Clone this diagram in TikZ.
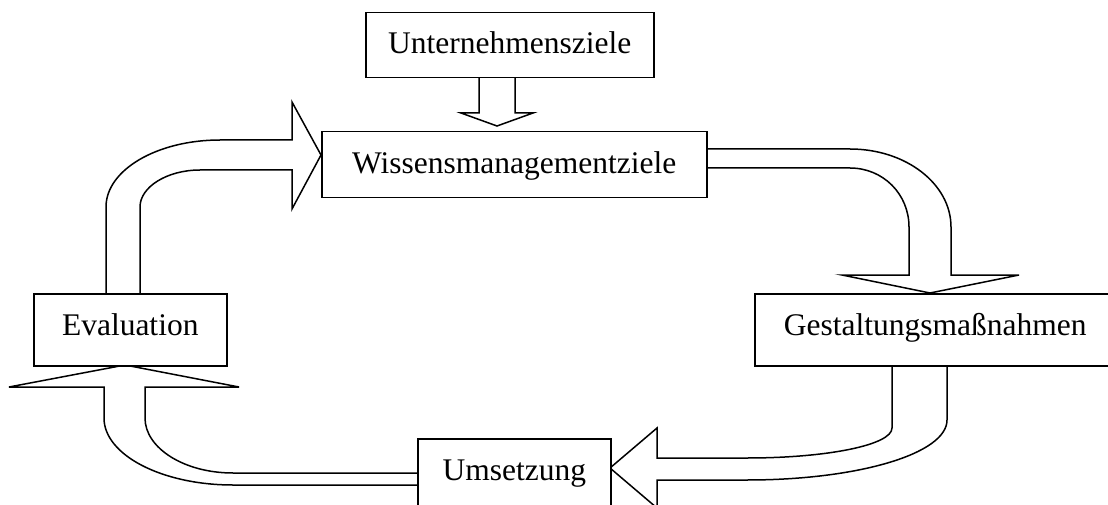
\documentclass[tikz,border=0pt]{standalone}
\usepackage{fontspec}
\setmainfont{Liberation Serif}
\pgfdeclarelayer{background}
\pgfsetlayers{background,main}
\begin{document}
\begin{tikzpicture}[x=1pt,y=-1pt,
  box/.style={draw,fill=white,rectangle,inner sep=0pt,anchor=north west,
    line width=1.5pt,font=\fontsize{31.5}{36}\selectfont},
  lowbox/.style={box,text height=22pt,text depth=5pt},
  highbox/.style={box,text height=20pt,text depth=8pt},
  blockarrow/.style={draw,fill=white,line width=1.5pt,line join=miter}]
\clip (0,0) rectangle (1108,505);
% boxes
\node[lowbox,minimum width=288pt,minimum height=65pt] (uz) at (365,12) {Unternehmensziele};
\node[lowbox,minimum width=385pt,minimum height=66pt] (wm) at (321,131) {Wissensmanagementziele};
\node[highbox,minimum width=193pt,minimum height=72pt] (ev) at (33,293) {Evaluation};
\node[highbox,minimum width=361pt,minimum height=72pt] (gm) at (754,293) {Gestaltungsmaßnahmen};
\node[highbox,minimum width=193pt,minimum height=72pt] (um) at (417,438) {Umsetzung};
\begin{pgfonlayer}{background}
% Unternehmensziele -> Wissensmanagementziele
\draw[blockarrow] (479,77) -- (479,113) -- (461,113) -- (497,126) -- (533,113) -- (515,113) -- (515,77);
% Evaluation -> Wissensmanagementziele
\draw[blockarrow] (106,293) -- (106,207) .. controls (106,170) and (157,140) .. (220,140)
  -- (292,140) -- (292,102) -- (321,155) -- (292,209) -- (292,170) -- (200,170)
  .. controls (167,170) and (140,187) .. (140,207) -- (140,293);
% Wissensmanagementziele -> Gestaltungsmassnahmen
\draw[blockarrow] (706,149) -- (850,149) .. controls (906,149) and (951,184) .. (951,227)
  -- (951,275) -- (1019,275) -- (930,293) -- (842,275) -- (909,275) -- (909,227)
  .. controls (909,194) and (883,168) .. (850,168) -- (706,168);
% Gestaltungsmassnahmen -> Umsetzung
\draw[blockarrow] (892,365) -- (892,428) .. controls (892,445) and (827,458) .. (747,458)
  -- (657,458) -- (657,428) -- (610,468) -- (657,508) -- (657,480) -- (747,480)
  .. controls (857,480) and (947,454) .. (947,420) -- (947,365);
% Umsetzung -> Evaluation
\draw[blockarrow] (417,473) -- (233,473) .. controls (184,473) and (145,448) .. (145,418)
  -- (145,387) -- (239,387) -- (125,365) -- (9,387) -- (104,387) -- (104,418)
  .. controls (104,455) and (162,485) .. (233,485) -- (417,485);
\end{pgfonlayer}
\end{tikzpicture}
\end{document}
